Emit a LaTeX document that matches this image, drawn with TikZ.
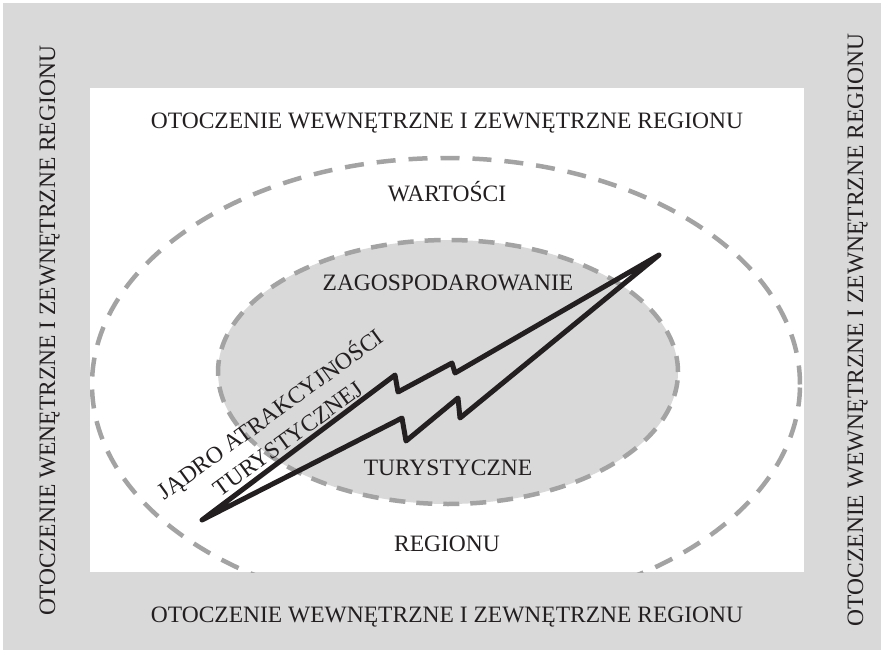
\documentclass[tikz,border=0pt]{standalone}
\usepackage{fontspec}
\setmainfont{Liberation Serif}
\definecolor{bggray}{HTML}{D9D9D9}
\definecolor{dashgray}{HTML}{A3A3A3}
\definecolor{ink}{HTML}{231F20}
\begin{document}
\begin{tikzpicture}[x=1pt,y=-1pt,
  lbl/.style={font=\fontsize{23.5}{22}\selectfont, text=ink, inner sep=0pt},
  dashline/.style={draw=dashgray, line width=4.5pt, dash pattern=on 19pt off 13pt},
  boltline/.style={draw=ink, line width=5pt, line join=round}]
\useasboundingbox (0,0) rectangle (884,653);
% frame
\fill[bggray] (3,3) rectangle (881,650);
\fill[white] (90,88) rectangle (804,572);
% outer dashed ellipse (clipped by white area)
\begin{scope}
  \clip (90,88) rectangle (804,572);
  \draw[dashline] (446,384.5) ellipse [x radius=354pt, y radius=226.5pt];
\end{scope}
% inner ellipse
\draw[dashline, fill=bggray, dash pattern=on 16pt off 11pt] (448,372) ellipse [x radius=230pt, y radius=132pt];
% texts
\node[lbl, anchor=base] (top) at (447,128) {OTOCZENIE WEWNĘTRZNE I ZEWNĘTRZNE REGIONU};
\node[lbl, anchor=base] (bottom) at (447,622) {OTOCZENIE WEWNĘTRZNE I ZEWNĘTRZNE REGIONU};
\node[lbl, anchor=base, rotate=90] (left) at (55,331) {OTOCZENIE WENĘTRZNE I ZEWNĘTRZNE REGIONU};
\node[lbl, anchor=base, rotate=90] (right) at (863,330) {OTOCZENIE WEWNĘTRZNE I ZEWNĘTRZNE REGIONU};
\node[lbl, anchor=base] (wart) at (447,201) {WARTOŚCI};
\node[lbl, anchor=base] (zag) at (448,290) {ZAGOSPODAROWANIE};
\node[lbl, anchor=base] (tur) at (448,475) {TURYSTYCZNE};
\node[lbl, anchor=base] (reg) at (447,551) {REGIONU};
% lightning bolt
\coordinate (b1) at (202,520);
\coordinate (b2) at (395,375);
\coordinate (b3) at (398,392);
\coordinate (b4) at (452,363);
\coordinate (b5) at (455,373);
\coordinate (b6) at (659,255);
\coordinate (b7) at (460,418);
\coordinate (b8) at (458,398);
\coordinate (b9) at (406,441);
\coordinate (b10) at (402,418);
\draw[boltline] (b1) -- (b2) -- (b3) -- (b4) -- (b5) -- (b6) -- (b7) -- (b8) -- (b9) -- (b10) -- cycle;
\node[lbl, align=center, rotate=36] (core) at (278,425) {JĄDRO ATRAKCYJNOŚCI\\[8pt]TURYSTYCZNEJ};
\end{tikzpicture}
\end{document}
